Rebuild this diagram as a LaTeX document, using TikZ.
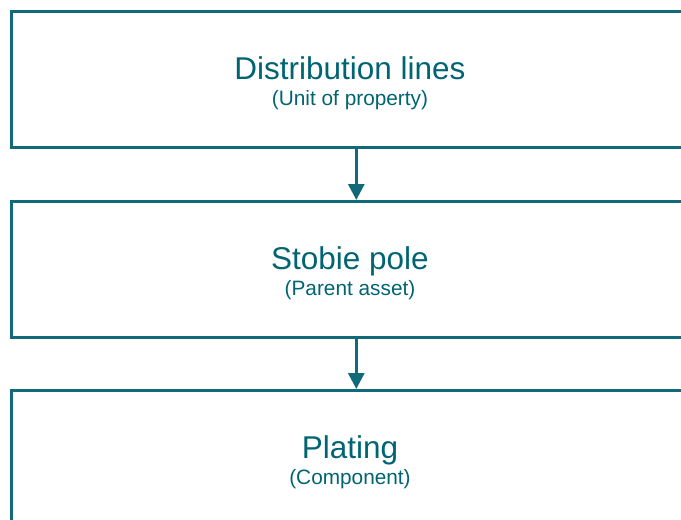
\documentclass[tikz,border=0pt]{standalone}
\usepackage{fontspec}
\setmainfont{Liberation Sans}
\usetikzlibrary{arrows.meta}
\definecolor{tealline}{RGB}{16,106,122}
\definecolor{tealtext}{RGB}{0,100,115}
\begin{document}
\begin{tikzpicture}[x=1pt,y=-1pt,
  levelbox/.style={draw=tealline, line width=2.6pt, minimum width=680pt,
    minimum height=136pt, inner sep=0pt, anchor=north west},
  titletext/.style={text=tealtext, font=\fontsize{31.5}{36}\selectfont, anchor=base, inner sep=0pt},
  subtext/.style={text=tealtext, font=\fontsize{20.8}{24}\selectfont, anchor=base, inner sep=0pt},
  link/.style={draw=tealline, line width=3pt, -{Triangle[width=16pt,length=16pt]}}]
\useasboundingbox (0,0) rectangle (681,520);
\clip (0,0) rectangle (681,520);
% three stacked levels
\node[levelbox] (unit) at (10,10) {};
\node[levelbox] (parent) at (10,200) {};
\node[levelbox] (comp) at (10,389) {};
% labels
\node[titletext] (unitT) at (350,79) {Distribution lines};
\node[subtext] (unitS) at (350,105) {(Unit of property)};
\node[titletext] (parentT) at (350,269) {Stobie pole};
\node[subtext] (parentS) at (350,295) {(Parent asset)};
\node[titletext] (compT) at (350,458) {Plating};
\node[subtext] (compS) at (350,484) {(Component)};
% connectors
\draw[link] ([xshift=5pt]unit.south) -- ([xshift=5pt]parent.north);
\draw[link] ([xshift=5pt]parent.south) -- ([xshift=5pt]comp.north);
\end{tikzpicture}
\end{document}
